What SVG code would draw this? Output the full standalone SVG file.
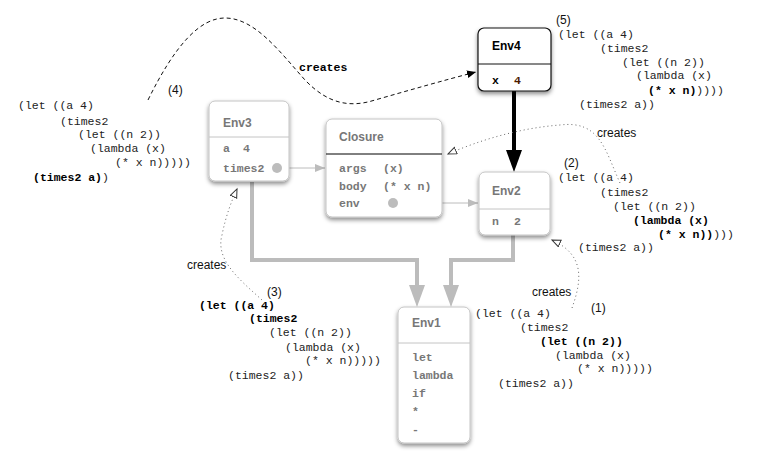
<svg xmlns="http://www.w3.org/2000/svg" width="758" height="466" viewBox="0 0 758 466">
<style>
.box{fill:#fff;stroke:#c4c4c4;stroke-width:1}
.boxd{fill:#fff;stroke:#111;stroke-width:1.2}
.div{stroke:#c4c4c4;stroke-width:1}
.hd{font-family:"Liberation Sans",Arial,sans-serif;font-size:12px;font-weight:bold;fill:#777}
.en{font-family:"Liberation Mono","Courier New",monospace;font-size:11.5px;font-weight:bold;fill:#777}
.code{font-family:"Liberation Mono","Courier New",monospace;font-size:11.5px;fill:#222}
.b{font-weight:bold;fill:#000}
.lbl{font-family:"Liberation Sans",Arial,sans-serif;font-size:12px;fill:#111}
.thick{fill:none;stroke:#bcbcbc;stroke-width:4}
.dot{fill:none;stroke:#666;stroke-width:1;stroke-dasharray:1 3}
</style>
<defs>
<filter id="sh" x="-20%" y="-20%" width="140%" height="150%">
<feDropShadow dx="0" dy="2.5" stdDeviation="2" flood-color="#000" flood-opacity="0.45"/>
</filter>
<marker id="ga" markerUnits="userSpaceOnUse" markerWidth="12" markerHeight="10" refX="10" refY="4" orient="auto">
<path d="M0,0 L10,4 L0,8 z" fill="#bcbcbc"/>
</marker>
<marker id="tg" markerUnits="userSpaceOnUse" markerWidth="24" markerHeight="18" refX="0" refY="8" orient="auto">
<path d="M0,0 L22,8 L0,16 z" fill="#bcbcbc"/>
</marker>
<marker id="tb" markerUnits="userSpaceOnUse" markerWidth="24" markerHeight="18" refX="0" refY="8" orient="auto">
<path d="M0,0 L22,8 L0,16 z" fill="#000"/>
</marker>
<marker id="fa" markerUnits="userSpaceOnUse" markerWidth="12" markerHeight="10" refX="9" refY="4" orient="auto">
<path d="M0,0 L9,4 L0,8 z" fill="#000"/>
</marker>
<marker id="ha" markerUnits="userSpaceOnUse" markerWidth="12" markerHeight="10" refX="9" refY="4" orient="auto">
<path d="M0.5,0.5 L9,4 L0.5,7.5 z" fill="#fff" stroke="#333" stroke-width="1"/>
</marker>
</defs>

<g id="connectors">
<path class="thick" d="M252,182 V260 H417 V285" marker-end="url(#tg)"/>
<path class="thick" d="M513,235 V260 H451 V285" marker-end="url(#tg)"/>
<path d="M514,91 V150" fill="none" stroke="#000" stroke-width="4" marker-end="url(#tb)"/>
<path d="M281,168 H325" fill="none" stroke="#bcbcbc" stroke-width="1" marker-end="url(#ga)"/>
<path d="M397,203 H478" fill="none" stroke="#bcbcbc" stroke-width="1" marker-end="url(#ga)"/>
<path d="M148,100 C175,45 200,18 225,18 C255,18 280,52 305,80 C328,104 350,108 375,100 C410,90 445,80 476,72" fill="none" stroke="#111" stroke-width="1" stroke-dasharray="4 3" marker-end="url(#fa)"/>
<path class="dot" d="M620,183 C605,150 600,120 560,125 C520,128 480,140 448,154" marker-end="url(#ha)"/>
<path class="dot" d="M572,308 C582,280 585,255 552,240" marker-end="url(#ha)"/>
<path class="dot" d="M262,300 C240,280 215,260 222,235 C226,215 232,200 237,189" marker-end="url(#ha)"/>
<text class="code b" x="299" y="71">creates</text>
<text class="lbl" x="597" y="137">creates</text>
<text class="lbl" x="532" y="296">creates</text>
<text class="lbl" x="187" y="269">creates</text>
</g>

<g id="env3">
<rect class="box" x="209" y="101" width="80" height="80" rx="6" filter="url(#sh)"/>
<line class="div" x1="209" y1="137" x2="289" y2="137"/>
<text class="hd" x="223" y="127">Env3</text>
<text class="en" x="223" y="152">a</text><text class="en" x="243" y="152">4</text>
<text class="en" x="223" y="172">times2</text>
<circle cx="277" cy="168" r="5" fill="#bcbcbc"/>
</g>

<g id="closure">
<rect class="box" x="326" y="119" width="116" height="98" rx="6" filter="url(#sh)"/>
<line x1="326" y1="154" x2="442" y2="154" stroke="#000" stroke-width="1"/>
<text class="hd" x="339" y="141">Closure</text>
<text class="en" x="339" y="172">args</text><text class="en" x="383" y="172">(x)</text>
<text class="en" x="339" y="190">body</text><text class="en" x="383" y="190">(* x n)</text>
<text class="en" x="339" y="207">env</text>
<circle cx="393" cy="203" r="5" fill="#bcbcbc"/>
</g>

<g id="env4">
<rect class="boxd" x="478" y="28" width="73" height="63" rx="6" filter="url(#sh)"/>
<line x1="478" y1="64" x2="551" y2="64" stroke="#111" stroke-width="1"/>
<text class="hd" x="492" y="50" style="fill:#000">Env4</text>
<text class="en" x="492" y="84" style="fill:#000">x</text><text class="en" x="514" y="84" style="fill:#4a1a00">4</text>
</g>

<g id="env2">
<rect class="box" x="479" y="172" width="71" height="63" rx="6" filter="url(#sh)"/>
<line class="div" x1="479" y1="209" x2="550" y2="209"/>
<text class="hd" x="492" y="195">Env2</text>
<text class="en" x="492" y="225">n</text><text class="en" x="514" y="225">2</text>
</g>

<g id="env1">
<rect class="box" x="398" y="307" width="72" height="136" rx="6" filter="url(#sh)"/>
<line class="div" x1="398" y1="343" x2="470" y2="343"/>
<text class="hd" x="412" y="327">Env1</text>
<text class="en" x="412" y="361">let</text>
<text class="en" x="412" y="379">lambda</text>
<text class="en" x="412" y="397">if</text>
<text class="en" x="412" y="415">*</text>
<text class="en" x="412" y="433">-</text>
</g>

<g id="code4">
<text class="lbl" x="168" y="94">(4)</text>
<text class="code" x="18" y="109">(let ((a 4)</text>
<text class="code" x="60" y="125">(times2</text>
<text class="code" x="78" y="138">(let ((n 2))</text>
<text class="code" x="90" y="152">(lambda (x)</text>
<text class="code" x="115" y="166">(* x n)))))</text>
<text class="code" x="33" y="181"><tspan class="b">(times2 a)</tspan>)</text>
</g>

<g id="code5">
<text class="lbl" x="556" y="24">(5)</text>
<text class="code" x="558" y="38">(let ((a 4)</text>
<text class="code" x="600" y="52">(times2</text>
<text class="code" x="622" y="66">(let ((n 2))</text>
<text class="code" x="636" y="79">(lambda (x)</text>
<text class="code" x="648" y="94"><tspan class="b">(* x n)</tspan>))))</text>
<text class="code" x="579" y="108">(times2 a))</text>
</g>

<g id="code2">
<text class="lbl" x="564" y="167">(2)</text>
<text class="code" x="558" y="181">(let ((a 4)</text>
<text class="code" x="600" y="196">(times2</text>
<text class="code" x="613" y="210">(let ((n 2))</text>
<text class="code b" x="633" y="224">(lambda (x)</text>
<text class="code" x="658" y="238"><tspan class="b">(* x n))</tspan>)))</text>
<text class="code" x="578" y="251">(times2 a))</text>
</g>

<g id="code3">
<text class="lbl" x="267" y="296">(3)</text>
<text class="code b" x="199" y="309">(let ((a 4)</text>
<text class="code b" x="249" y="322">(times2</text>
<text class="code" x="269" y="336">(let ((n 2))</text>
<text class="code" x="285" y="351">(lambda (x)</text>
<text class="code" x="305" y="364">(* x n)))))</text>
<text class="code" x="228" y="379">(times2 a))</text>
</g>

<g id="code1">
<text class="lbl" x="591" y="312">(1)</text>
<text class="code" x="475" y="317">(let ((a 4)</text>
<text class="code" x="520" y="331">(times2</text>
<text class="code b" x="540" y="345">(let ((n 2))</text>
<text class="code" x="555" y="359">(lambda (x)</text>
<text class="code" x="577" y="372">(* x n)))))</text>
<text class="code" x="498" y="387">(times2 a))</text>
</g>
</svg>
